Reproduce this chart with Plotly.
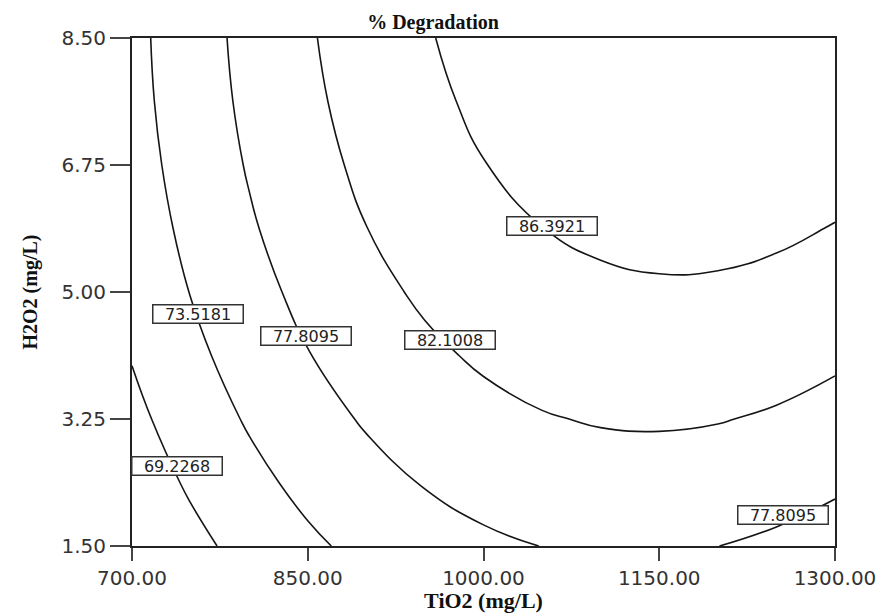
import plotly.graph_objects as go

# Grid (% Degradation)
tio2 = [700, 750, 800, 850, 900, 950, 1000, 1050, 1100, 1150, 1200, 1250, 1300]
h2o2 = [1.5, 2.375, 3.25, 4.125, 5.0, 5.875, 6.75, 7.625, 8.5]
degradation = [
    [65.17, 68.08, 70.62, 72.79, 74.60, 76.05, 77.13, 77.85, 78.21, 78.20, 77.83, 77.09, 75.99],
    [66.79, 69.77, 72.38, 74.62, 76.50, 78.02, 79.17, 79.96, 80.39, 80.45, 80.15, 79.48, 78.45],
    [68.21, 71.25, 73.93, 76.25, 78.20, 79.79, 81.01, 81.87, 82.37, 82.50, 82.27, 81.67, 80.71],
    [69.42, 72.54, 75.29, 77.67, 79.69, 81.35, 82.64, 83.57, 84.14, 84.34, 84.18, 83.65, 82.76],
    [70.43, 73.61, 76.43, 78.89, 80.98, 82.71, 84.07, 85.07, 85.71, 85.98, 85.89, 85.43, 84.61],
    [71.23, 74.49, 77.38, 79.90, 82.06, 83.86, 85.29, 86.36, 87.07, 87.41, 87.39, 87.00, 86.25],
    [71.83, 75.15, 78.11, 80.71, 82.94, 84.81, 86.31, 87.45, 88.23, 88.64, 88.69, 88.37, 87.69],
    [72.22, 75.62, 78.65, 81.31, 83.61, 85.55, 87.12, 88.33, 89.18, 89.66, 89.78, 89.53, 88.92],
    [72.41, 75.88, 78.98, 81.71, 84.08, 86.09, 87.73, 89.01, 89.93, 90.48, 90.67, 90.49, 89.95],
]
contour_start = 69.2268
contour_end = 86.3921
contour_step = 4.2913

# Contour label texts and their positions (TiO2, H2O2)
label_text = ["69.2268", "73.5181", "77.8095", "82.1008", "86.3921", "77.8095"]
label_x = [738.8, 756.3, 848.5, 971.4, 1058.5, 1255.2]
label_y = [2.602, 4.697, 4.387, 4.339, 5.909, 1.934]

x_ticks = [700, 850, 1000, 1150, 1300]
y_ticks = [1.5, 3.25, 5.0, 6.75, 8.5]

# page body has an 8px default margin; size the figure to fill the rest
W, H = 877, 605

fig = go.Figure()
fig.add_trace(go.Contour(
    x=tio2, y=h2o2, z=degradation,
    contours=dict(start=contour_start, end=contour_end, size=contour_step,
                  coloring="none", showlabels=False),
    line=dict(color="#151515", width=1.6, smoothing=1.3),
    showscale=False,
    hoverinfo="x+y+z",
))

for t, lx, ly in zip(label_text, label_x, label_y):
    fig.add_annotation(
        x=lx, y=ly, xref="x", yref="y", text=t, showarrow=False,
        font=dict(family="DejaVu Sans", size=16, color="#222222"),
        bgcolor="white", bordercolor="#333333", borderwidth=1.5, borderpad=1,
        width=87, height=15,
    )

axis_common = dict(
    showgrid=False, zeroline=False, showline=True, linecolor="#222222",
    linewidth=2, mirror=True, ticks="outside", tickwidth=2, tickcolor="#444444",
    tickformat=".2f", automargin=False,
    tickfont=dict(family="DejaVu Sans", size=20, color="#333333"),
)

fig.update_layout(
    width=W, height=H,
    margin=dict(l=124, r=50, t=30, b=67, autoexpand=False),
    paper_bgcolor="white", plot_bgcolor="white",
    showlegend=False,
    title=dict(text="% Degradation", x=(433 - 8) / W, xanchor="center", xref="container",
               y=1 - (22 - 8) / H, yanchor="middle", yref="container",
               font=dict(family="Liberation Serif", size=20, color="#111111", weight="bold")),
    xaxis=dict(range=[700, 1300], tickvals=x_ticks, ticklen=13,
               title=dict(text="TiO2 (mg/L)", standoff=8,
                          font=dict(family="Liberation Serif", size=22, color="#111111", weight="bold")),
               **axis_common),
    yaxis=dict(range=[1.5, 8.5], tickvals=y_ticks, ticklen=20,
               title=dict(text="H2O2 (mg/L)", standoff=18,
                          font=dict(family="Liberation Serif", size=20, color="#111111", weight="bold")),
               **axis_common),
)

fig.write_html("out.html")
